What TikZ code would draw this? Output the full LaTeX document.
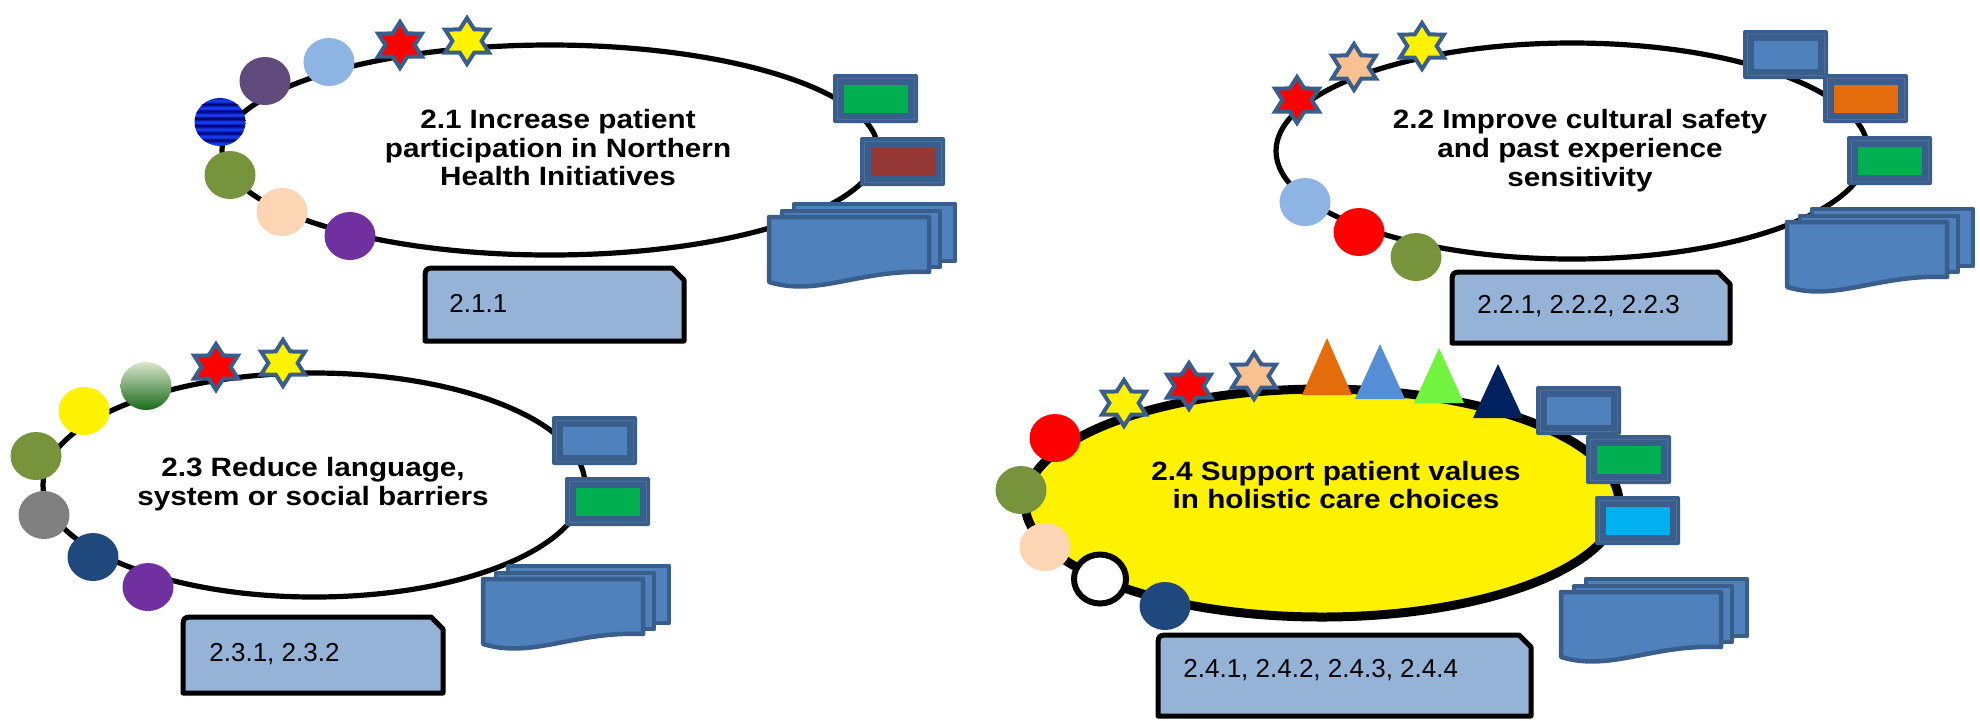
\documentclass[tikz,border=0pt]{standalone}
\usepackage{fontspec}
\newfontfamily\titlefont{Liberation Sans}[FakeStretch=1.12]
\newfontfamily\labelfont{Liberation Sans}

\definecolor{ltblue}{HTML}{8EB4E3}
\definecolor{plumgray}{HTML}{604A7B}
\definecolor{olive}{HTML}{77933C}
\definecolor{peach}{HTML}{FCD5B5}
\definecolor{violet}{HTML}{7030A0}
\definecolor{dkblue}{HTML}{1F497D}
\definecolor{midgray}{HTML}{808080}
\definecolor{starpeach}{HTML}{FAC090}
\definecolor{frameblue}{HTML}{3A5E8C}
\definecolor{frameline}{HTML}{4D7099}
\definecolor{docblue}{HTML}{4F81BD}
\definecolor{tagblue}{HTML}{95B3D7}
\definecolor{boxgreen}{HTML}{00B050}
\definecolor{boxbrown}{HTML}{953735}
\definecolor{boxorange}{HTML}{E46C0A}
\definecolor{boxcyan}{HTML}{00B0F0}
\definecolor{triblue}{HTML}{558ED5}
\definecolor{trigreen}{HTML}{72F33F}
\definecolor{trinavy}{HTML}{002060}
\definecolor{stripedark}{HTML}{00007A}
\definecolor{stripebright}{HTML}{1544FF}
\definecolor{leaftop}{HTML}{D9E6CC}
\definecolor{leafmid}{HTML}{93B567}
\definecolor{leafbot}{HTML}{1A6B1A}

% a coloured bead on a ring
\newcommand\bead[3]{\fill[#3] (#1,#2) ellipse [x radius=25.5, y radius=24];}
% a six-pointed star
\newcommand\hexstar[3]{%
  \begin{scope}[shift={(#1,#2)}, xscale=1.1]
    \draw[starline, fill=#3] (30:23) \foreach \a in {60,120,...,360}{ -- (\a:13.3) -- ({\a+30}:23)} -- cycle;
  \end{scope}}
% a framed coloured panel, given its top-left corner
\newcommand\flag[3]{%
  \fill[frameblue, rounded corners=1pt] (#1,#2) rectangle ++(85,49);
  \draw[frameline, line width=0.5pt] ({#1+4},{#2+4}) rectangle ++(77,41);
  \fill[#3] ({#1+10.5},{#2+10.5}) rectangle ++(64,28);}
% a stack of three documents, given the front page's top-left corner
\newcommand\docstack[2]{%
  \draw[docline] ({#1+25},{#2-13}) rectangle ++(161,57);
  \draw[docline] ({#1+13},{#2-6}) rectangle ++(158,56);
  \draw[docline] (#1,{#2+65}) -- (#1,#2) -- ({#1+160},#2) -- ({#1+160},{#2+55})
    .. controls ({#1+90},{#2+52}) and ({#1+50},{#2+80}) .. (#1,{#2+65}) -- cycle;}
% a tag with a rounded top-left and a snipped top-right corner
\newcommand\tagbox[4]{%
  \draw[tagshape] (#1,#4) -- (#1,{#2+13}) .. controls (#1,#2) .. ({#1+13},#2)
    -- ({#3-12},#2) -- (#3,{#2+12}) -- (#3,#4) -- cycle;}

\begin{document}
\begin{tikzpicture}[x=0.5pt, y=-0.5pt,
  ring/.style={draw=black, line width=2.6pt},
  starline/.style={draw=frameblue, line width=2pt},
  docline/.style={draw=frameblue, fill=docblue, line width=2.25pt, line join=round},
  tagshape/.style={draw=black, fill=tagblue, line width=2.5pt, line join=round},
  titletext/.style={inner sep=0pt, align=center,
    font=\titlefont\bfseries\fontsize{13.25}{14.4}\selectfont},
  tagtext/.style={inner sep=0pt, anchor=base west,
    font=\labelfont\fontsize{13}{16}\selectfont}]
\useasboundingbox (0,0) rectangle (1980,720);
\fill[white] (0,0) rectangle (1980,720);

% ---------- 2.1 ----------
\draw[ring, fill=white] (550,150) ellipse [x radius=328, y radius=105];
\node[titletext] (title21) at (558,151.3)
  {\strut 2.1 Increase patient\\\strut participation in Northern\\\strut Health Initiatives};
\bead{329}{62}{ltblue}
\bead{265}{81}{plumgray}
\begin{scope}
  \clip (220,122) ellipse [x radius=25.5, y radius=24];
  \foreach \i in {0,...,6}
    \shade[top color=stripedark, bottom color=stripedark, middle color=stripebright]
      (193,{97+7.2*\i}) rectangle (247,{104.2+7.2*\i});
\end{scope}
\bead{230}{175}{olive}
\bead{282}{212}{peach}
\bead{350}{236}{violet}
\hexstar{400}{45}{red}
\hexstar{467}{41}{yellow}
\flag{833}{74}{boxgreen}
\flag{860}{137}{boxbrown}
\docstack{769}{217}
\tagbox{425}{268}{684}{341}
\node[tagtext] (tag21) at (449,312) {2.1.1};

% ---------- 2.2 ----------
\draw[ring, fill=white] (1572,151) ellipse [x radius=296, y radius=108];
\node[titletext] (title22) at (1580,152)
  {\strut 2.2 Improve cultural safety\\\strut and past experience\\\strut sensitivity};
\bead{1305}{202}{ltblue}
\bead{1359}{232}{red}
\bead{1416}{257}{olive}
\hexstar{1297}{100}{red}
\hexstar{1354}{67}{starpeach}
\hexstar{1422}{46}{yellow}
\flag{1743}{30}{docblue}
\flag{1823}{74}{boxorange}
\flag{1847}{136}{boxgreen}
\docstack{1787}{222}
\tagbox{1452}{272}{1730}{343}
\node[tagtext] (tag22) at (1477,313) {2.2.1, 2.2.2, 2.2.3};

% ---------- 2.3 ----------
\draw[ring, fill=white] (314,485) ellipse [x radius=271, y radius=112];
\node[titletext] (title23) at (313,485.3)
  {\strut 2.3 Reduce language,\\\strut system or social barriers};
\shade[top color=leaftop, middle color=leafmid, bottom color=leafbot]
  (146,386) ellipse [x radius=25.5, y radius=24];
\bead{84}{411}{yellow}
\bead{36}{456}{olive}
\bead{44}{515}{midgray}
\bead{93}{557}{dkblue}
\bead{148}{587}{violet}
\hexstar{216}{367}{red}
\hexstar{283}{363}{yellow}
\flag{552}{416}{docblue}
\flag{565}{477}{boxgreen}
\docstack{483}{579}
\tagbox{183}{617}{443}{693}
\node[tagtext] (tag23) at (209,661) {2.3.1, 2.3.2};

% ---------- 2.4 ----------
\draw[draw=black, line width=4.5pt, fill=yellow] (1322,503) ellipse [x radius=297, y radius=114];
\node[titletext] (title24) at (1336,488.8)
  {\strut 2.4 Support patient values\\\strut in holistic care choices};
\bead{1055}{438}{red}
\bead{1021}{490}{olive}
\bead{1045}{547}{peach}
\draw[line width=3pt, fill=white] (1100,579) ellipse [x radius=26, y radius=24.5];
\bead{1165}{606}{dkblue}
\hexstar{1124}{403}{yellow}
\hexstar{1189}{386}{red}
\hexstar{1254}{376}{starpeach}
\fill[boxorange] (1327,338) -- (1352,395) -- (1302,395) -- cycle;
\fill[triblue] (1380,344) -- (1405,399) -- (1355,399) -- cycle;
\fill[trigreen] (1439,348) -- (1464,403) -- (1414,403) -- cycle;
\fill[trinavy] (1498,364) -- (1523,418) -- (1473,418) -- cycle;
\flag{1536}{386}{docblue}
\flag{1586}{435}{boxgreen}
\flag{1595}{496}{boxcyan}
\docstack{1561}{592}
\tagbox{1158}{635}{1531}{716}
\node[tagtext] (tag24) at (1183,677) {2.4.1, 2.4.2, 2.4.3, 2.4.4};
\end{tikzpicture}
\end{document}
